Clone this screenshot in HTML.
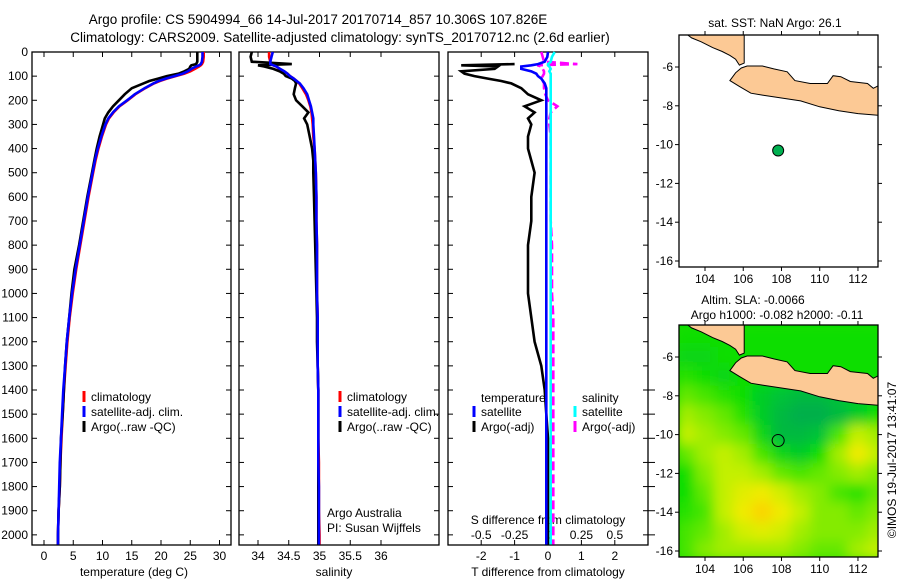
<!DOCTYPE html>
<html><head><meta charset="utf-8"><style>
html,body{margin:0;padding:0;background:#fff;}
svg{display:block;font-family:"Liberation Sans",sans-serif;}
</style></head><body>
<svg id="fig" width="900" height="580" viewBox="0 0 900 580" xmlns="http://www.w3.org/2000/svg">
<text x="318" y="24" font-size="13.5" text-anchor="middle">Argo profile: CS 5904994_66 14-Jul-2017 20170714_857 10.306S 107.826E</text>
<text x="340" y="42" font-size="13.5" text-anchor="middle">Climatology: CARS2009. Satellite-adjusted climatology: synTS_20170712.nc (2.6d earlier)</text>
<g id="g"></g>
</svg>
<script>
const depths=[0,20,40,50,55,60,70,80,90,100,110,120,130,150,175,200,225,250,275,300,350,400,450,500,600,700,800,900,1000,1100,1200,1300,1400,1500,1600,1700,1800,1900,2000,2040];
const tempArgo=[26.2,26.2,26.2,26.0,25.2,25.0,24.8,24.0,23.0,21.0,19.5,18.0,17.0,15.0,13.8,12.8,11.8,11.0,10.4,10.1,9.5,9.0,8.6,8.2,7.4,6.7,6.0,5.2,4.7,4.3,3.9,3.6,3.4,3.2,2.9,2.8,2.7,2.5,2.4,2.4];
const tempClim=[27.3,27.3,27.2,27.0,26.8,26.5,25.8,25.0,24.0,22.5,21.0,19.8,18.8,17.3,15.6,14.3,12.9,11.9,11.1,10.6,9.9,9.3,8.8,8.4,7.6,6.9,6.2,5.5,4.9,4.4,4.0,3.7,3.4,3.2,3.0,2.8,2.7,2.5,2.4,2.4];
const tempSat=[27.1,27.1,27.0,26.8,26.5,26.0,25.2,24.6,23.7,22.3,20.8,19.6,18.7,17.2,15.5,14.2,12.8,11.8,11.0,10.5,9.8,9.2,8.7,8.3,7.5,6.8,6.1,5.4,4.8,4.3,3.9,3.6,3.3,3.1,2.9,2.7,2.6,2.5,2.4,2.4];
const salArgo=[33.9,33.88,33.9,34.55,34.0,34.1,34.25,34.35,34.42,34.45,34.55,34.6,34.62,34.6,34.58,34.62,34.72,34.82,34.75,34.8,34.84,34.88,34.9,34.9,34.91,34.92,34.93,34.94,34.95,34.96,34.96,34.97,34.98,34.98,34.98,34.98,34.98,34.98,34.98,34.98];
const salClim=[34.18,34.18,34.2,34.22,34.25,34.3,34.35,34.42,34.48,34.52,34.58,34.63,34.67,34.72,34.78,34.82,34.85,34.87,34.88,34.89,34.9,34.92,34.93,34.94,34.95,34.95,34.96,34.96,34.96,34.97,34.97,34.97,34.98,34.98,34.98,34.99,34.99,34.99,35.0,35.0];
const salSat=[34.24,34.22,34.2,34.2,34.25,34.3,34.36,34.43,34.48,34.52,34.58,34.63,34.68,34.74,34.8,34.83,34.86,34.88,34.9,34.9,34.91,34.92,34.93,34.94,34.95,34.95,34.96,34.96,34.96,34.97,34.97,34.97,34.98,34.98,34.98,34.98,34.99,34.99,34.99,34.99];
const tDiffArgo=[null,null,null,-1.0,-2.6,-1.5,-1.6,-2.6,-2.5,-2.2,-1.8,-1.4,-1.1,-0.8,-0.6,-0.2,-0.7,-0.4,-0.6,-0.5,-0.6,-0.6,-0.5,-0.4,-0.5,-0.5,-0.6,-0.6,-0.6,-0.5,-0.4,-0.2,-0.1,-0.05,0,0,0,0,0,0];
const tDiffSat=[0.0,-0.02,-0.1,-0.3,-0.5,-0.8,-0.8,-0.5,-0.35,-0.3,-0.2,-0.15,-0.1,-0.05,-0.05,-0.05,-0.05,-0.05,-0.05,-0.05,-0.05,-0.05,-0.05,-0.05,-0.05,-0.05,-0.05,-0.05,-0.05,-0.05,-0.05,-0.05,-0.05,-0.05,-0.05,-0.05,-0.05,-0.05,-0.05,-0.05];
const sDiffArgo=[-0.05,-0.04,-0.03,0.22,-0.08,-0.05,-0.04,-0.03,-0.03,-0.04,-0.05,-0.04,-0.03,-0.03,-0.02,0.0,0.07,0.02,0.01,0.01,0.02,0.02,0.02,0.02,0.02,0.02,0.03,0.03,0.03,0.04,0.04,0.04,0.04,0.04,0.04,0.04,0.04,0.04,0.04,0.04];
const sDiffSat=[0.05,0.03,0.02,0.0,0.0,0.01,0.02,0.01,0.02,0.02,0.02,0.02,0.02,0.02,0.02,0.02,0.02,0.02,0.02,0.02,0.02,0.02,0.02,0.02,0.02,0.02,0.02,0.02,0.02,0.02,0.02,0.02,0.02,0.02,0.02,0.02,0.02,0.02,0.02,0.02];
const depthTicks=[0,100,200,300,400,500,600,700,800,900,1000,1100,1200,1300,1400,1500,1600,1700,1800,1900,2000];
const tempTicks=[0,5,10,15,20,25,30];
const salTicks=["34","34.5","35","35.5","36"];
const tdTicks=["-2","-1","0","1","2"];
const sdTicks=["-0.5","-0.25","0","0.25","0.5"];
const mapLonTicks=[104,106,108,110,112];
const mapLatTicks=[-6,-8,-10,-12,-14,-16];
const argoLon=107.826, argoLat=-10.306;
const slaLons=[103,104,105,106,107,108,109,110,111,112,113];
const slaLats=[-5,-6,-7,-8,-9,-10,-11,-12,-13,-14,-15,-16];
const slaGrid=[
[0,0,0,0,0,0,0,0,0,0,0],
[-0.01,-0.01,0,0,0,0,0,0,0,0,0],
[0.01,0,-0.01,0,0,0,0,0,0,0,0],
[0.03,0.02,0.01,0,-0.02,-0.03,-0.04,-0.04,-0.03,-0.02,-0.01],
[0.05,0.04,0.03,0.01,-0.02,-0.04,-0.05,-0.05,-0.04,-0.02,0],
[0.06,0.05,0.04,0.03,-0.01,-0.04,-0.04,-0.03,0.02,0.06,0.05],
[0.03,0.05,0.06,0.05,0.02,-0.01,-0.02,0.0,0.05,0.09,0.06],
[0.0,0.04,0.06,0.06,0.05,0.03,0.02,0.03,0.04,0.05,0.04],
[0.0,0.03,0.06,0.08,0.09,0.07,0.05,0.04,0.02,0.01,0.03],
[0.01,0.02,0.06,0.09,0.11,0.09,0.06,0.04,0.04,0.03,0.04],
[0.02,0.03,0.05,0.07,0.08,0.07,0.05,0.04,0.04,0.04,0.05],
[0.02,0.04,0.05,0.05,0.05,0.05,0.04,0.03,0.03,0.05,0.06]];
const sumatra=[[103.1,-4.35],[106.05,-4.35],[106.05,-5.8],[105.8,-5.9],[105.6,-5.6],[105.3,-5.4],[104.9,-5.2],[104.4,-5.0],[103.8,-4.7],[103.3,-4.5]];
const java=[[105.3,-6.7],[105.6,-6.3],[105.9,-6.05],[106.2,-5.95],[106.6,-5.95],[107.0,-5.95],[107.6,-6.1],[108.3,-6.25],[108.7,-6.7],[109.5,-6.85],[110.4,-6.85],[110.7,-6.45],[111.1,-6.5],[111.6,-6.75],[112.5,-6.85],[112.8,-7.1],[113.2,-6.9],[113.2,-8.5],[112.0,-8.4],[111.0,-8.25],[110.0,-8.05],[109.0,-7.75],[108.0,-7.6],[107.0,-7.45],[106.4,-7.35],[105.8,-7.0]];

const NS="http://www.w3.org/2000/svg";
const G=document.getElementById('g');
function mk(tag,attrs,parent){const e=document.createElementNS(NS,tag);for(const k in attrs)e.setAttribute(k,attrs[k]);(parent||G).appendChild(e);return e;}
function txt(x,y,s,size,anchor,parent){const t=mk('text',{x:x,y:y,'font-size':size||12,'text-anchor':anchor||'middle'},parent);t.textContent=s;return t;}

const PT=52,PB=545;
const yD=d=>PT+(d/2042)*(PB-PT);
function panel(x0,x1,name){
  const r=mk('rect',{x:x0,y:PT,width:x1-x0,height:PB-PT,fill:'none',stroke:'#000','stroke-width':1.3});
  
  
  depthTicks.forEach(d=>{mk('line',{x1:x0,x2:x0+5,y1:yD(d),y2:yD(d),stroke:'#000'});mk('line',{x1:x1,x2:x1-5,y1:yD(d),y2:yD(d),stroke:'#000'});});
}
function profile(xf,vals,color,name,dash){
  let pts=[];
  for(let i=0;i<depths.length;i++){if(vals[i]==null)continue;pts.push(xf(vals[i]).toFixed(1)+','+yD(depths[i]).toFixed(1));}
  const p=mk('polyline',{points:pts.join(' '),fill:'none',stroke:color,'stroke-width':2.6,'stroke-linejoin':'miter'});
  if(dash)p.setAttribute('stroke-dasharray',dash);
  
  
}
function legendEntry(x,y,color,label,name){
  const g=mk('g',{});
  
  
  mk('line',{x1:x,x2:x,y1:y-10,y2:y+1,stroke:color,'stroke-width':3},g);
  txt(x+7,y,label,12,'start',g);
}

// Panel 1 temperature
const xT=v=>44+v*5.85;
panel(32,231,'temperature-panel');
depthTicks.forEach(d=>{txt(28,yD(d)+4,String(d),12,'end');});
tempTicks.forEach(v=>{mk('line',{x1:xT(v),x2:xT(v),y1:PB,y2:PB-5,stroke:'#000'});mk('line',{x1:xT(v),x2:xT(v),y1:PT,y2:PT+5,stroke:'#000'});txt(xT(v),560,String(v),12);});
txt(134,576,'temperature (deg C)',12);
profile(xT,tempClim,'#f00','temp-climatology-line');
profile(xT,tempArgo,'#000','temp-argo-line');
profile(xT,tempSat,'#00f','temp-satellite-line');
legendEntry(84,401,'#f00','climatology','temp-legend-climatology');
legendEntry(84,416,'#00f','satellite-adj. clim.','temp-legend-satellite');
legendEntry(84,431,'#000','Argo(..raw -QC)','temp-legend-argo');

// Panel 2 salinity
const xS=v=>258+(v-34)*61.5;
panel(239,439,'salinity-panel');
salTicks.forEach(s=>{const v=parseFloat(s);mk('line',{x1:xS(v),x2:xS(v),y1:PB,y2:PB-5,stroke:'#000'});mk('line',{x1:xS(v),x2:xS(v),y1:PT,y2:PT+5,stroke:'#000'});txt(xS(v),560,s,12);});
txt(334,576,'salinity',12);
profile(xS,salClim,'#f00','sal-climatology-line');
profile(xS,salArgo,'#000','sal-argo-line');
profile(xS,salSat,'#00f','sal-satellite-line');
legendEntry(340,401,'#f00','climatology','sal-legend-climatology');
legendEntry(340,416,'#00f','satellite-adj. clim.','sal-legend-satellite');
legendEntry(340,431,'#000','Argo(..raw -QC)','sal-legend-argo');
txt(327,517,'Argo Australia',12,'start');
txt(327,532,'PI: Susan Wijffels',12,'start');

// Panel 3 differences
const xDT=v=>548+v*33.4;
const xDS=v=>548+v*4*33.4;
panel(448,648,'difference-panel');
depthTicks.forEach(d=>{if(d>=1400)mk('line',{x1:648,x2:655,y1:yD(d),y2:yD(d),stroke:'#000'});});
tdTicks.forEach(s=>{const v=parseFloat(s);mk('line',{x1:xDT(v),x2:xDT(v),y1:PB,y2:PB-5,stroke:'#000'});mk('line',{x1:xDT(v),x2:xDT(v),y1:PT,y2:PT+5,stroke:'#000'});txt(xDT(v),560,s,12);});
sdTicks.forEach(s=>{const v=parseFloat(s);txt(xDS(v),539,s,12);});
txt(548,524,'S difference from climatology',12);
txt(548,576,'T difference from climatology',12);
profile(xDT,tDiffArgo,'#000','tdiff-argo-line');
profile(xDS,sDiffArgo,'#f0f','sdiff-argo-line','9,4');
profile(xDS,sDiffSat,'#0ff','sdiff-satellite-line');
profile(xDT,tDiffSat,'#00f','tdiff-satellite-line');
txt(481,402,'temperature',12,'start');
txt(582,402,'salinity',12,'start');
legendEntry(474,416,'#00f','satellite','diff-legend-t-satellite');
legendEntry(474,431,'#000','Argo(-adj)','diff-legend-t-argo');
legendEntry(575,416,'#0ff','satellite','diff-legend-s-satellite');
legendEntry(575,431,'#f0f','Argo(-adj)','diff-legend-s-argo');

// Maps
const MX0=679,MX1=878;
const lx=lon=>705+(lon-104)*19.12;
function map(top,name,withSla){
  const ly=lat=>top+32+(-6-lat)*19.4;
  const bottom=top+232;
  const g=mk('g',{});
  
  
  const cid=name+'-clip';
  const defs=mk('defs',{},g);
  const cp=mk('clipPath',{id:cid},defs);
  mk('rect',{x:MX0,y:top,width:MX1-MX0,height:bottom-top},cp);
  const inner=mk('g',{'clip-path':'url(#'+cid+')'},g);
  if(withSla){
    const f=mk('filter',{id:name+'-blur',x:'-10%',y:'-10%',width:'120%',height:'120%'},defs);
    mk('feGaussianBlur',{stdDeviation:6},f);
    mk('rect',{x:MX0,y:top,width:MX1-MX0,height:bottom-top,fill:'#11dd00'},inner);
    const cg=mk('g',{filter:'url(#'+name+'-blur)'},inner);
    const stops=[[-0.06,[0,165,85]],[-0.03,[0,195,55]],[0,[10,222,0]],[0.03,[100,232,0]],[0.06,[195,240,0]],[0.09,[240,235,0]],[0.12,[255,200,0]]];
    function col(v){if(v<=stops[0][0])return stops[0][1];for(let i=1;i<stops.length;i++){if(v<=stops[i][0]){const a=stops[i-1],b=stops[i],t=(v-a[0])/(b[0]-a[0]);return a[1].map((c,k)=>Math.round(c+(b[1][k]-c)*t));}}return stops[stops.length-1][1];}
    slaLats.forEach((lat,r)=>slaLons.forEach((lon,c)=>{
      const cc=col(slaGrid[r][c]);
      const cell=mk('rect',{x:lx(lon)-10,y:ly(lat)-10,width:20,height:20,fill:'rgb('+cc.join(',')+')'},cg);
      
      
    }));
  }
  [sumatra,java].forEach((poly,i)=>{
    const p=mk('polygon',{points:poly.map(q=>lx(q[0]).toFixed(1)+','+ly(q[1]).toFixed(1)).join(' '),fill:'#fcc995',stroke:'#000','stroke-width':1},inner);
    
    
  });
  mk('rect',{x:MX0,y:top,width:MX1-MX0,height:bottom-top,fill:'none',stroke:'#000','stroke-width':1.3},g);
  mapLonTicks.forEach(v=>{mk('line',{x1:lx(v),x2:lx(v),y1:bottom,y2:bottom+4,stroke:'#000'},g);mk('line',{x1:lx(v),x2:lx(v),y1:top,y2:top-4,stroke:'#000'},g);txt(lx(v),bottom+16,String(v),12,'middle',g);});
  mapLatTicks.forEach(v=>{mk('line',{x1:MX0,x2:MX0-4,y1:ly(v),y2:ly(v),stroke:'#000'},g);mk('line',{x1:MX1,x2:MX1+4,y1:ly(v),y2:ly(v),stroke:'#000'},g);txt(MX0-6,ly(v)+4,String(v),12,'end',g);});
  const dot=mk('circle',{cx:lx(argoLon),cy:ly(argoLat),r:withSla?6:5.5,fill:withSla?'none':'#00b050',stroke:'#000','stroke-width':1},g);
  
  
}
map(35,'sst-map',false);
map(325,'sla-map',true);
txt(775,27,'sat. SST: NaN Argo: 26.1',12);
txt(753,304,'Altim. SLA: -0.0066',12);
txt(777,319,'Argo h1000: -0.082 h2000: -0.11',12);
const cr=txt(0,0,'©IMOS 19-Jul-2017 13:41:07',12);
cr.setAttribute('transform','translate(896,460) rotate(-90)');


</script>
</body></html>
